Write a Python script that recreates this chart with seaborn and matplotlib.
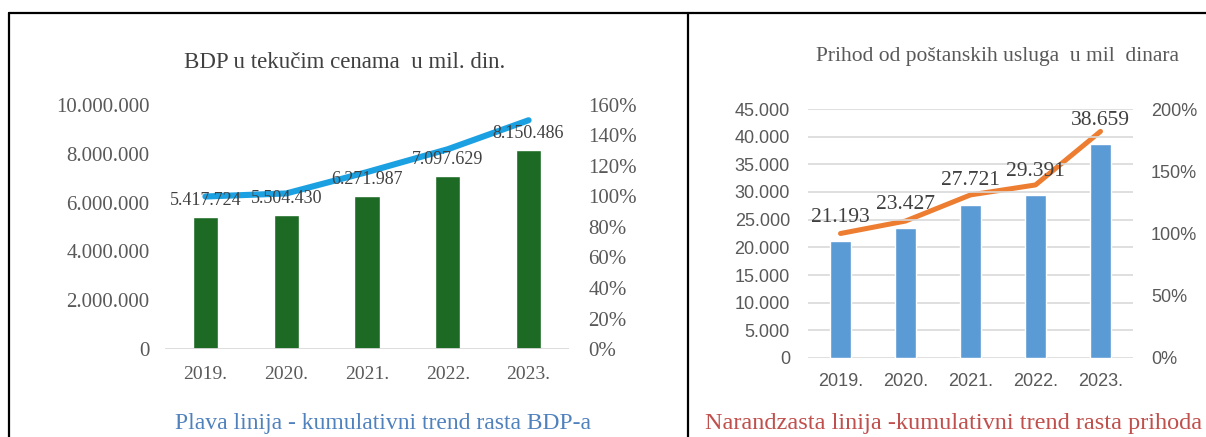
import numpy as np
import seaborn as sns
import matplotlib.pyplot as plt
from matplotlib.lines import Line2D
from matplotlib.ticker import FuncFormatter, MultipleLocator

# data
years = ["2019.", "2020.", "2021.", "2022.", "2023."]
bdp = [5417724, 5504430, 6271987, 7097629, 8150486]
bdp_trend = [1.00, 1.02, 1.16, 1.31, 1.50]
prihod = [21193, 23427, 27721, 29391, 38659]
prihod_trend = [1.00, 1.10, 1.31, 1.39, 1.82]

sns.set_style("white")
plt.rcParams['font.family'] = ['Liberation Serif', 'DejaVu Serif']

W, H = 1206, 437
fig = plt.figure(figsize=(W / 100, H / 100), dpi=100)


def box(x0, y0, x1, y1):
    # pixel box (left, top, right, bottom) -> figure fraction
    return [x0 / W, 1 - y1 / H, (x1 - x0) / W, (y1 - y0) / H]


def dots(v, pos=None):
    return f"{v:,.0f}".replace(",", ".")


def pct(v, pos=None):
    return f"{v * 100:.0f}%"


gray = "#595959"
pos = np.arange(len(years))

# ---- left chart: BDP
ax = fig.add_axes(box(165, 105, 569, 349))
sns.barplot(x=years, y=bdp, color="#1C6A24", saturation=1, width=0.31, ax=ax)
ax.set_ylim(0, 10000000)
ax.set_xlim(-0.5, 4.5)
ax.yaxis.set_major_locator(MultipleLocator(2000000))
ax.yaxis.set_major_formatter(FuncFormatter(dots))
ax.axhline(0, color="#D9D9D9", lw=2, zorder=1)
ax.set_xlabel("")
ax.set_ylabel("")
sns.despine(ax=ax, left=True, bottom=True)
ax.tick_params(axis="y", length=0, pad=11, labelsize=15, labelcolor=gray)
ax.tick_params(axis="x", length=0, pad=12, labelsize=14, labelcolor=gray)
for i, v in enumerate(bdp):
    ax.annotate(dots(v), (i, v), xytext=(0, 12), textcoords="offset points",
                ha="center", va="center", fontsize=13, color="#404040", zorder=5)

ax2 = ax.twinx()
sns.lineplot(x=pos, y=bdp_trend, color="#1BA1E2", linewidth=4.4, ax=ax2,
             solid_capstyle="round")
ax2.set_ylim(0, 1.6)
ax2.yaxis.set_major_locator(MultipleLocator(0.2))
ax2.yaxis.set_major_formatter(FuncFormatter(pct))
sns.despine(ax=ax2, left=True, bottom=True, right=True)
ax2.tick_params(axis="y", length=0, pad=14, labelsize=15, labelcolor=gray)
ax2.set_ylabel("")
ax.set_zorder(ax2.get_zorder() + 1)
ax.patch.set_visible(False)

fig.text(345 / W, 1 - 62 / H, "BDP u tekučim cenama  u mil. din.", ha="center",
         va="center", fontsize=16.5, color="#404040")
fig.text(383 / W, 1 - 424 / H, "Plava linija - kumulativni trend rasta BDP-a",
         ha="center", va="center", fontsize=17, color="#4F81BD")

# ---- right chart: postal revenue
bx = fig.add_axes(box(808, 109, 1133, 358))
sns.barplot(x=years, y=prihod, color="#5B9BD5", saturation=1, width=0.31, ax=bx)
bx.set_ylim(0, 45000)
bx.set_xlim(-0.5, 4.5)
bx.yaxis.set_major_locator(MultipleLocator(5000))
bx.yaxis.set_major_formatter(FuncFormatter(dots))
bx.grid(axis="y", color="#D9D9D9", lw=1.2)
bx.set_axisbelow(True)
bx.set_xlabel("")
bx.set_ylabel("")
sns.despine(ax=bx, left=True, bottom=True)
bx.tick_params(axis="y", length=0, pad=13, labelsize=13, labelcolor=gray)
bx.tick_params(axis="x", length=0, pad=11, labelsize=13, labelcolor=gray)
for lab in bx.get_xticklabels() + bx.get_yticklabels():
    lab.set_family(["Liberation Sans", "DejaVu Sans"])
for i, v in enumerate(prihod):
    bx.annotate(dots(v), (i, v), xytext=(0, 17), textcoords="offset points",
                ha="center", va="center", fontsize=15.5, color="#404040", zorder=5)

bx2 = bx.twinx()
sns.lineplot(x=pos, y=prihod_trend, color="#ED7D31", linewidth=3.6, ax=bx2,
             solid_capstyle="round")
bx2.set_ylim(0, 2.0)
bx2.yaxis.set_major_locator(MultipleLocator(0.5))
bx2.yaxis.set_major_formatter(FuncFormatter(pct))
sns.despine(ax=bx2, left=True, bottom=True, right=True)
bx2.tick_params(axis="y", length=0, pad=13, labelsize=13, labelcolor=gray)
for lab in bx2.get_yticklabels():
    lab.set_family(["Liberation Sans", "DejaVu Sans"])
bx2.set_ylabel("")
bx.set_zorder(bx2.get_zorder() + 1)
bx.patch.set_visible(False)

fig.text(997 / W, 1 - 56 / H, "Prihod od poštanskih usluga  u mil  dinara",
         ha="center", va="center", fontsize=15.5, color=gray)
fig.text(954 / W, 1 - 424 / H, "Narandzasta linija -kumulativni trend rasta prihoda",
         ha="center", va="center", fontsize=17.5, color="#C0504D")

# table frame
ytop = 1 - 13 / H
fig.add_artist(Line2D([9 / W, 1], [ytop, ytop], color="black", lw=1.6))
fig.add_artist(Line2D([9 / W, 9 / W], [0, ytop], color="black", lw=1.6))
fig.add_artist(Line2D([688 / W, 688 / W], [0, ytop], color="black", lw=1.6))

fig.savefig("out.png", dpi=100, facecolor="white")
